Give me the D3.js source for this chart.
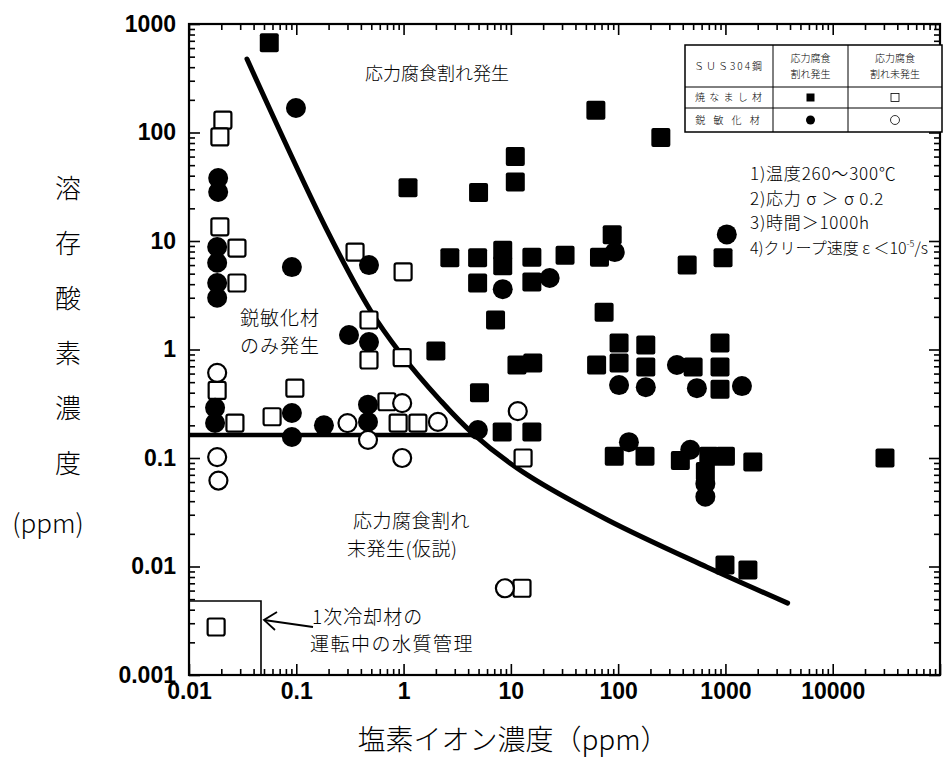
<!DOCTYPE html>
<html><head><meta charset="utf-8">
<script src="https://cdn.jsdelivr.net/npm/d3@7"></script>
<style>body{margin:0;background:#fff} svg{display:block}</style>
</head><body>
<svg id="c" width="945" height="765"></svg>
<script>
// ---- data (x = chloride ion ppm, y = dissolved oxygen ppm) ----
const annealedSCC = [ // ■
  [0.056,670],[1.1,31],[5,28],[11,35],[11,60],[62,160],[250,90],
  [2.7,7.0],[4.9,7.0],[4.9,4.1],[8.4,8.2],[8.4,5.9],[15.7,7.1],[15.7,4.2],[32,7.4],
  [67,7.1],[88,11.4],[950,7.0],[440,6.0],
  [7.2,1.87],[2.0,0.97],[74,2.2],
  [5.1,0.40],[11.4,0.72],[16,0.75],[63,0.72],
  [102,1.15],[102,0.75],[181,1.1],[181,0.69],[500,0.69],[890,1.15],[890,0.69],[890,0.43],
  [8.3,0.174],[15.7,0.174],
  [92,0.104],[178,0.104],[380,0.095],[700,0.104],[1000,0.104],[1800,0.092],[650,0.075],[30700,0.1],
  [990,0.0103],[1620,0.0093]
];
const annealedNoSCC = [ // □
  [0.0207,130],[0.0194,91],[0.0194,13.5],[0.028,8.6],[0.028,4.1],[0.353,7.9],[0.99,5.2],
  [0.476,1.87],[0.476,0.80],[0.97,0.84],[0.0183,0.42],[0.0268,0.21],[0.0595,0.24],[0.097,0.44],
  [0.70,0.33],[0.89,0.21],[1.36,0.21],[13,0.1],[12.7,0.0063],[0.0179,0.00277]
];
const sensitizedSCC = [ // ●
  [0.0993,168],[0.0187,38],[0.0187,28.3],[0.0183,8.8],[0.0183,6.3],[0.0183,4.1],[0.0183,3.0],
  [0.091,5.75],[0.476,6.0],[0.31,1.36],[0.476,1.17],[0.0175,0.29],[0.0175,0.21],[0.091,0.26],
  [0.091,0.156],[0.181,0.20],[0.466,0.31],[0.466,0.215],[4.93,0.181],
  [93,7.9],[1030,11.5],[23,4.56],[8.4,3.6],[102,0.47],[181,0.45],[353,0.72],[542,0.44],
  [1426,0.46],[126,0.14],[470,0.119],[650,0.044],[650,0.058]
];
const sensitizedNoSCC = [ // ○
  [0.0183,0.61],[0.30,0.21],[0.466,0.147],[0.97,0.32],[2.09,0.215],[0.0183,0.102],
  [0.97,0.1],[0.0188,0.062],[11.6,0.27],[8.8,0.0063]
];
const curveX = [0.0347,0.19,0.49,0.93,2.2,4.4,13,79,670,3800];
const curveY = [475,13,2.3,0.93,0.34,0.169,0.074,0.027,0.0099,0.0046];
const thresholdDO = 0.163, thresholdXEnd = 4.6;
const xTickValues = [0.01,0.1,1,10,100,1000,10000];
const xTickLabels = ["0.01","0.1","1","10","100","1000","10000"];
const yTickValues = [0.001,0.01,0.1,1,10,100,1000];
const yTickLabels = ["0.001","0.01","0.1","1","10","100","1000"];
const conditions = ["1)温度260～300℃","2)応力 σ ＞ σ 0.2","3)時間＞1000h"];

const svg = d3.select("#c");
const L=189,R=940,T=24,B=675;
const x = d3.scaleLog().domain([0.01,1e5]).range([L,R]);
const y = d3.scaleLog().domain([0.001,1000]).range([B,T]);
const serif = "'Noto Sans CJK JP', sans-serif";

function minors(dom){const out=[];for(let e=Math.round(Math.log10(dom[0]));e<Math.round(Math.log10(dom[1]));e++){for(let k=2;k<=9;k++)out.push(k*Math.pow(10,e));}return out;}

// axes
const xfmt = v => xTickLabels[xTickValues.indexOf(v)] ?? "";
const yfmt = v => yTickLabels[yTickValues.indexOf(v)] ?? "";
function styleAxis(g){g.select(".domain").remove();g.selectAll("line").attr("stroke","#000").attr("stroke-width",1.6);}
svg.append("g").attr("transform",`translate(0,${B})`).call(d3.axisBottom(x).tickValues(minors(x.domain())).tickSize(-6).tickFormat("")).call(styleAxis);
svg.append("g").attr("transform",`translate(0,${B})`).call(d3.axisBottom(x).tickValues(xTickValues.concat([1e5])).tickSize(-11).tickPadding(8).tickFormat(xfmt)).call(styleAxis);
svg.append("g").attr("transform",`translate(0,${T})`).call(d3.axisTop(x).tickValues(minors(x.domain())).tickSize(-6).tickFormat("")).call(styleAxis);
svg.append("g").attr("transform",`translate(0,${T})`).call(d3.axisTop(x).tickValues(xTickValues).tickSize(-11).tickFormat("")).call(styleAxis);
svg.append("g").attr("transform",`translate(${L},0)`).call(d3.axisLeft(y).tickValues(minors(y.domain())).tickSize(-6).tickFormat("")).call(styleAxis);
svg.append("g").attr("transform",`translate(${L},0)`).call(d3.axisLeft(y).tickValues(yTickValues).tickSize(-11).tickPadding(13).tickFormat(yfmt)).call(styleAxis);
svg.append("g").attr("transform",`translate(${R},0)`).call(d3.axisRight(y).tickValues(minors(y.domain())).tickSize(-6).tickFormat("")).call(styleAxis);
svg.append("g").attr("transform",`translate(${R},0)`).call(d3.axisRight(y).tickValues(yTickValues).tickSize(-11).tickFormat("")).call(styleAxis);
svg.selectAll(".tick text").attr("font-family","'Liberation Sans',Arial,sans-serif").attr("font-size",23).attr("font-weight","bold").attr("fill","#000");

svg.append("rect").attr("x",L).attr("y",T).attr("width",R-L).attr("height",B-T).attr("fill","none").attr("stroke","#000").attr("stroke-width",2.2);

// curve and threshold line
const curveData = curveX.map((v,i)=>[v,curveY[i]]);
svg.append("path").datum(curveData).attr("d",d3.line().x(d=>x(d[0])).y(d=>y(d[1])).curve(d3.curveCatmullRom.alpha(0.5)))
  .attr("fill","none").attr("stroke","#000").attr("stroke-width",5).attr("stroke-linecap","round");
svg.append("line").attr("x1",x(0.01)).attr("x2",x(thresholdXEnd)).attr("y1",y(thresholdDO)).attr("y2",y(thresholdDO))
  .attr("stroke","#000").attr("stroke-width",4.5);

// primary coolant box + arrow
svg.append("path").attr("d",`M${L},601H261V${B}`).attr("fill","none").attr("stroke","#000").attr("stroke-width",1.6);
svg.append("line").attr("x1",313).attr("y1",627).attr("x2",264).attr("y2",620).attr("stroke","#000").attr("stroke-width",1.8);
svg.append("path").attr("d","M277,612 L264,620 L275,630").attr("fill","none").attr("stroke","#000").attr("stroke-width",1.8);

// markers
const g = svg.append("g");
g.selectAll(".hs").data(annealedNoSCC).join("rect").attr("x",d=>x(d[0])-8.5).attr("y",d=>y(d[1])-8.5)
  .attr("width",17).attr("height",17).attr("rx",2).attr("fill","#fff").attr("stroke","#000").attr("stroke-width",2.2);
g.selectAll(".hc").data(sensitizedNoSCC).join("circle").attr("cx",d=>x(d[0])).attr("cy",d=>y(d[1])).attr("r",9)
  .attr("fill","#fff").attr("stroke","#000").attr("stroke-width",2.2);
g.selectAll(".fc").data(sensitizedSCC).join("circle").attr("cx",d=>x(d[0])).attr("cy",d=>y(d[1])).attr("r",10).attr("fill","#000");
g.selectAll(".fs").data(annealedSCC).join("rect").attr("x",d=>x(d[0])-9.5).attr("y",d=>y(d[1])-9.5)
  .attr("width",19).attr("height",19).attr("rx",2).attr("fill","#000");

// region labels
function txt(s,xx,yy,size,opts={}){const t=svg.append("text").attr("x",xx).attr("y",yy).attr("font-family",serif).attr("font-size",size).attr("fill","#000").text(s);
  if(opts.anchor)t.attr("text-anchor",opts.anchor); if(opts.ls)t.attr("letter-spacing",opts.ls); if(opts.weight)t.attr("font-weight",opts.weight); return t;}
txt("応力腐食割れ発生",365,80,18,{weight:300});
txt("鋭敏化材",240,325,19,{weight:300,ls:1});
txt("のみ発生",240,353,19,{weight:300,ls:1});
txt("応力腐食割れ",353,528,19,{weight:300,ls:0.5});
txt("末発生(仮説)",347,556,19,{weight:300,ls:0.5});
txt("1次冷却材の",312,624,19,{weight:300,ls:1});
txt("運転中の水質管理",310,651,19,{weight:300,ls:1.5});

// conditions
conditions.forEach((s,i)=>txt(s,750,180+i*24.5,17,{weight:300,ls:0.8}));
const c4 = txt("4)クリープ速度 ε ＜10",750,254,16,{weight:300});
c4.append("tspan").attr("dy",-7).attr("font-size",9).text("-5");
c4.append("tspan").attr("dy",7).text("/s");

// legend table
const lg = svg.append("g");
const tx=[685,773,848,942], ty=[45,87,108,132];
lg.append("rect").attr("x",tx[0]).attr("y",ty[0]).attr("width",tx[3]-tx[0]).attr("height",ty[3]-ty[0]).attr("fill","#fff").attr("stroke","#000").attr("stroke-width",1.5);
[tx[1],tx[2]].forEach(v=>lg.append("line").attr("x1",v).attr("x2",v).attr("y1",ty[0]).attr("y2",ty[3]).attr("stroke","#000").attr("stroke-width",1));
[ty[1],ty[2]].forEach(v=>lg.append("line").attr("x1",tx[0]).attr("x2",tx[3]).attr("y1",v).attr("y2",v).attr("stroke","#000").attr("stroke-width",1));
function ltxt(s,xx,yy,ls){lg.append("text").attr("x",xx).attr("y",yy).attr("text-anchor","middle").attr("font-family",serif).attr("font-size",10).attr("font-weight",300).attr("letter-spacing",ls||0).text(s);}
ltxt("ＳＵＳ304鋼",(tx[0]+tx[1])/2,70,2);
ltxt("応力腐食",(tx[1]+tx[2])/2,62);ltxt("割れ発生",(tx[1]+tx[2])/2,78);
ltxt("応力腐食",(tx[2]+tx[3])/2,62);ltxt("割れ未発生",(tx[2]+tx[3])/2,78);
ltxt("焼 な ま し 材",(tx[0]+tx[1])/2,101,1);
ltxt("鋭 敏 化 材",(tx[0]+tx[1])/2,124,3);
const cx2=(tx[1]+tx[2])/2, cx3=(tx[2]+tx[3])/2;
lg.append("rect").attr("x",cx2-4).attr("y",93.5).attr("width",8).attr("height",8).attr("fill","#000");
lg.append("rect").attr("x",cx3-4).attr("y",93.5).attr("width",8).attr("height",8).attr("fill","none").attr("stroke","#000").attr("stroke-width",0.8);
lg.append("circle").attr("cx",cx2).attr("cy",120).attr("r",4.5).attr("fill","#000");
lg.append("circle").attr("cx",cx3).attr("cy",120).attr("r",4.5).attr("fill","none").attr("stroke","#000").attr("stroke-width",0.8);

// axis titles
const yTitleChars = ["溶","存","酸","素","濃","度"];
yTitleChars.forEach((c,i)=>txt(c,68,198+i*55,26,{anchor:"middle",weight:300}));
txt("(ppm)",48,533,26,{anchor:"middle",weight:300});
txt("塩素イオン濃度（ppm）",513,750,28,{anchor:"middle",weight:300});
</script>
</body></html>
